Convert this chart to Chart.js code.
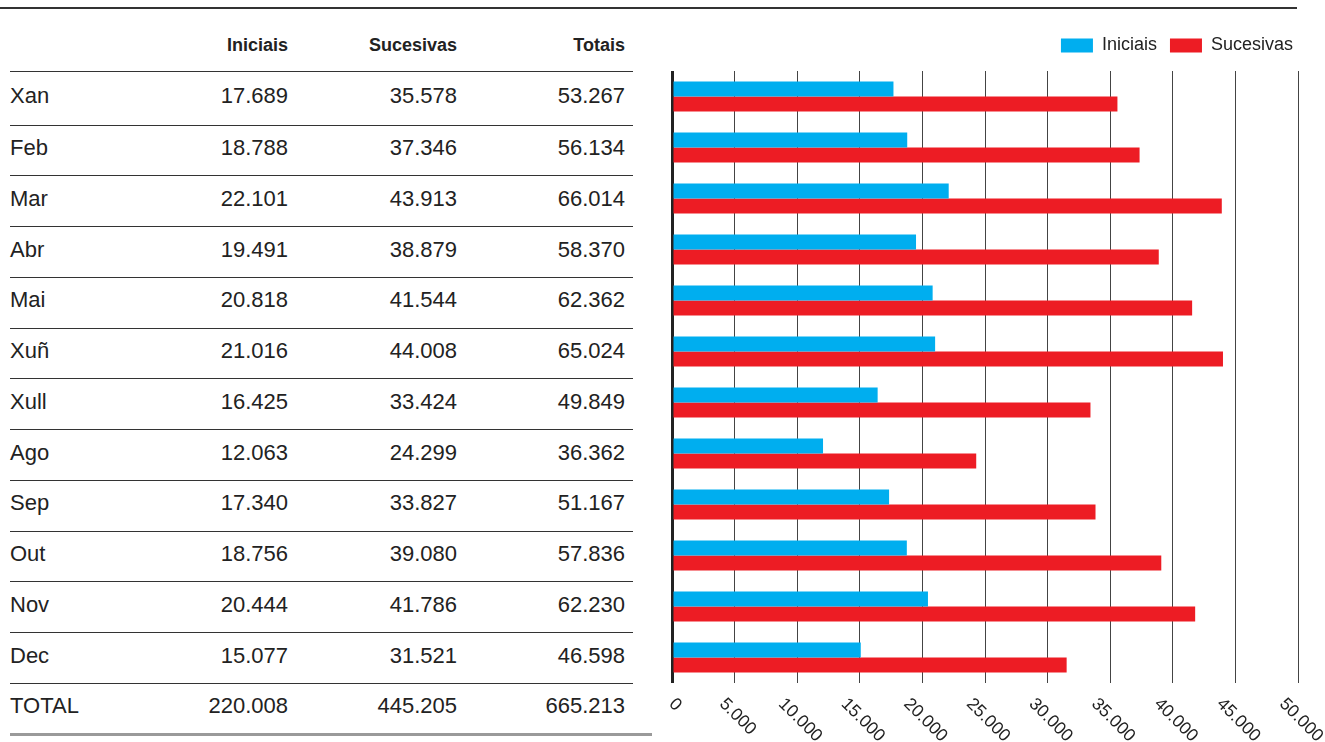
<!DOCTYPE html>
<html lang="gl">
  <head>
    <meta charset="UTF-8" />
    <title>Demandas iniciais e sucesivas</title>
    <style>
      * {
        margin: 0;
        padding: 0;
        box-sizing: border-box;
      }
      body {
        width: 1325px;
        height: 742px;
        overflow: hidden;
        background: #fff;
        font-family: "Liberation Sans", Arial, sans-serif;
        color: #222;
        position: relative;
      }
      .liñaTop {
        position: absolute;
        left: 0;
        top: 7px;
        width: 1297px;
        height: 2px;
        background: #333;
      }
      .fila {
        position: absolute;
        left: 10px;
        width: 623px;
        border-bottom: 1.5px solid #333;
      }
      .fila span {
        position: absolute;
        font-size: 22px;
        line-height: 22px;
        top: calc(50% - 13px);
        white-space: nowrap;
      }
      .fila.cab span {
        font-size: 18px;
        font-weight: bold;
        line-height: 20px;
        top: 35px;
      }
      .fila.total {
        border-bottom: none;
      }
      .fila.total span {
        top: calc(50% - 15px);
      }
      .fila.total::after {
        content: "";
        position: absolute;
        left: 0;
        bottom: 0;
        width: 642px;
        height: 3px;
        background: #9a9a9a;
      }
      .c0 { left: 0; }
      .c1 { right: 345px; }
      .c2 { right: 176px; }
      .c3 { right: 8px; }
      #grafico {
        position: absolute;
        left: 640px;
        top: 0;
        width: 685px;
        height: 742px;
      }
    </style>
  </head>
  <body>
    <div class="liñaTop"></div>
    <div id="tabla"></div>
    <div id="grafico"><canvas id="myChart"></canvas></div>

    <script src="https://cdn.jsdelivr.net/npm/chart.js"></script>
    <script>
      const meses = ["Xan", "Feb", "Mar", "Abr", "Mai", "Xuñ", "Xull", "Ago", "Sep", "Out", "Nov", "Dec"];
      const iniciais = [17689, 18788, 22101, 19491, 20818, 21016, 16425, 12063, 17340, 18756, 20444, 15077];
      const sucesivas = [35578, 37346, 43913, 38879, 41544, 44008, 33424, 24299, 33827, 39080, 41786, 31521];
      const totais = [53267, 56134, 66014, 58370, 62362, 65024, 49849, 36362, 51167, 57836, 62230, 46598];
      const cabeceira = ["", "Iniciais", "Sucesivas", "Totais"];
      const filaTotal = ["TOTAL", 220008, 445205, 665213];
      const eixoMax = 50000;
      const eixoPaso = 5000;

      const fmt = (n) => String(n).replace(/\B(?=(\d{3})+(?!\d))/g, ".");

      // táboa da esquerda
      const tabla = document.getElementById("tabla");
      function engadirFila(celas, top, alto, clase) {
        const fila = document.createElement("div");
        fila.className = "fila " + clase;
        fila.style.top = top + "px";
        fila.style.height = alto + "px";
        celas.forEach((c, i) => {
          const s = document.createElement("span");
          s.className = "c" + i;
          s.textContent = typeof c === "number" ? fmt(c) : c;
          fila.appendChild(s);
        });
        tabla.appendChild(fila);
      }
      engadirFila(cabeceira, 0, 71.5, "cab");
      const paso = (683 - 125) / 11;
      meses.forEach((m, i) => {
        const top = i === 0 ? 71.5 : 125 + (i - 1) * paso;
        const bottom = 125 + i * paso;
        engadirFila([m, iniciais[i], sucesivas[i], totais[i]], top, bottom - top + 0.75, "");
      });
      engadirFila(filaTotal, 684, 52, "total");

      // gráfico
      const ctx = document.getElementById("myChart");

      const data = {
        labels: meses,
        datasets: [
          {
            label: "Iniciais",
            data: iniciais,
            backgroundColor: "#00aeef",
            barPercentage: 1,
            categoryPercentage: 0.59,
          },
          {
            label: "Sucesivas",
            data: sucesivas,
            backgroundColor: "#ed1c24",
            barPercentage: 1,
            categoryPercentage: 0.59,
          },
        ],
      };

      // etiquetas do eixo x rotadas 45º
      const xLabels = {
        id: "xLabels",
        afterDraw(chart) {
          const { ctx, chartArea, scales } = chart;
          const x = scales.x;
          ctx.save();
          ctx.font = "17.5px 'Liberation Sans', Arial, sans-serif";
          ctx.fillStyle = "#222";
          ctx.textAlign = "center";
          ctx.textBaseline = "middle";
          x.ticks.forEach((t) => {
            const txt = fmt(t.value);
            const L = ctx.measureText(txt).width;
            const ext = (L + 12) * Math.SQRT1_2;
            const px = x.getPixelForValue(t.value) + 3;
            const py = chartArea.bottom + 14 + ext / 2;
            ctx.save();
            ctx.translate(px, py);
            ctx.rotate(Math.PI / 4);
            ctx.fillText(txt, 0, 0);
            ctx.restore();
          });
          ctx.restore();
        },
      };

      const legendShift = {
        id: "legendShift",
        afterLayout(chart) {
          const lg = chart.legend;
          lg.left += 8;
          lg.right += 8;
          lg.top -= 6.5;
          lg.bottom -= 6.5;
        },
      };

      const config = {
        type: "bar",
        data: data,
        options: {
          indexAxis: "y",
          responsive: true,
          maintainAspectRatio: false,
          animation: false,
          layout: {
            padding: { left: 32, right: 27, top: 30, bottom: 59 },
          },
          scales: {
            x: {
              min: 0,
              max: eixoMax,
              ticks: { stepSize: eixoPaso, display: false },
              grid: {
                color: (c) => (c.tick && c.tick.value === 0 ? "#222" : "#444"),
                lineWidth: (c) => (c.tick && c.tick.value === 0 ? 3 : 1),
                drawTicks: false,
              },
              border: { display: false },
            },
            y: {
              display: false,
            },
          },
          plugins: {
            legend: {
              position: "top",
              align: "end",
              labels: {
                boxWidth: 32,
                boxHeight: 14,
                padding: 13,
                color: "#222",
                font: { family: "'Liberation Sans', Arial, sans-serif", size: 18 },
              },
            },
            tooltip: { enabled: false },
          },
        },
        plugins: [xLabels, legendShift],
      };

      const myChart = new Chart(ctx, config);
    </script>
  </body>
</html>
